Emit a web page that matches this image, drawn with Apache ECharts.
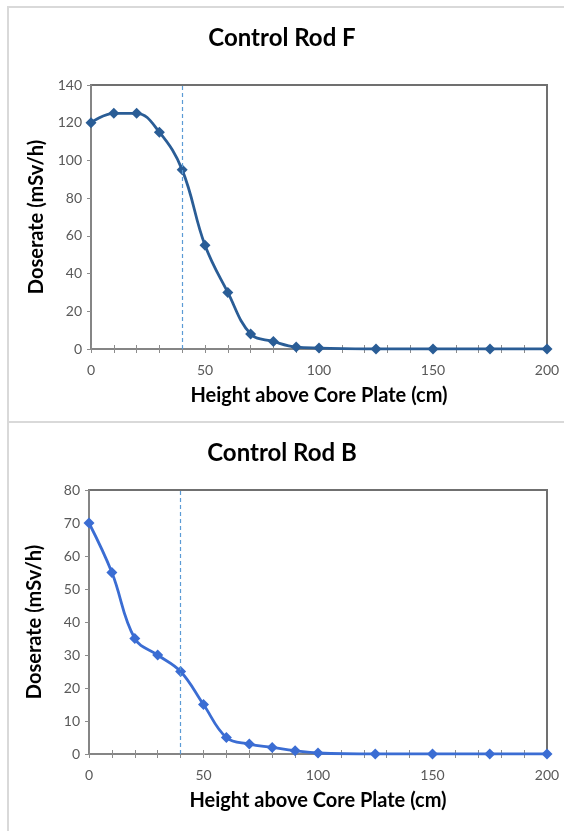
<!DOCTYPE html>
<html>
<head>
<meta charset="utf-8">
<script src="https://cdn.jsdelivr.net/npm/echarts@6/dist/echarts.min.js"></script>
<style>
  html, body { margin: 0; padding: 0; background: #fff; }
  #main { width: 564px; height: 831px; }
</style>
</head>
<body>
<div id="main"></div>
<script>
var heights = [0, 10, 20, 30, 40, 50, 60, 70, 80, 90, 100, 125, 150, 175, 200];
var doseRodF = [120, 125, 125, 115, 95, 55, 30, 8, 4, 1, 0.5, 0, 0, 0, 0];
var doseRodB = [70, 55, 35, 30, 25, 15, 5, 3, 2, 1, 0.3, 0, 0, 0, 0];
var cutoffHeight = 40;
var titles = ['Control Rod F', 'Control Rod B'];
var xName = 'Height above Core Plate (cm)';
var yName = 'Doserate (mSv/h)';

var myChart = echarts.init(document.getElementById('main'));
var font = 'Lato, "Open Sans", sans-serif';

function pairs(ys) {
    return heights.map(function (h, i) { return [h, ys[i]]; });
}

// main x axis: labels every 50, ticks every 10 (outside)
function xMain(grid) {
    return {
        type: 'value', gridIndex: grid, position: 'bottom',
        min: 0, max: 200, interval: 10,
        name: xName, nameLocation: 'middle', nameGap: 37,
        nameTextStyle: { fontFamily: font, fontWeight: 'bold', fontSize: 20, color: '#000' },
        axisLine: { lineStyle: { color: '#8c8c8c', width: 1.5 } },
        axisTick: { show: true, length: 4, lineStyle: { color: '#8c8c8c' } },
        axisLabel: {
            margin: 14, color: '#595959', fontFamily: font, fontSize: 14,
            formatter: function (v) { return v % 50 === 0 ? v : ''; }
        },
        splitLine: { show: false }
    };
}
// overlay axis only for the inner half of the cross ticks
function xInner(grid) {
    return {
        type: 'value', gridIndex: grid, position: 'bottom',
        min: 0, max: 200, interval: 10,
        axisLine: { show: false },
        axisTick: { show: true, inside: true, length: 4, lineStyle: { color: '#8c8c8c' } },
        axisLabel: { show: false },
        splitLine: { show: false }
    };
}
function yAx(grid, max, step) {
    return {
        type: 'value', gridIndex: grid, min: 0, max: max, interval: step,
        name: yName, nameLocation: 'middle', nameGap: 44,
        nameTextStyle: { fontFamily: font, fontWeight: 'bold', fontSize: 20, color: '#000' },
        axisLine: { show: true, lineStyle: { color: '#8c8c8c', width: 1.5 } },
        axisTick: { show: true, length: 4, lineStyle: { color: '#8c8c8c' } },
        axisLabel: { margin: 9, color: '#595959', fontFamily: font, fontSize: 14 },
        splitLine: { show: false }
    };
}
function lineSeries(grid, ys, color) {
    return {
        type: 'line', xAxisIndex: grid * 2, yAxisIndex: grid,
        data: pairs(ys), smooth: 0.4,
        symbol: 'diamond', symbolSize: 11,
        lineStyle: { color: color, width: 2.8 },
        itemStyle: { color: color },
        markLine: {
            silent: true, symbol: 'none', label: { show: false },
            lineStyle: { color: '#5b9bd5', type: [4, 3], width: 1.2 },
            data: [{ xAxis: cutoffHeight }]
        },
        z: 3
    };
}

option = {
    backgroundColor: '#fff',
    animation: false,
    title: [
        { text: titles[0], left: 'center', top: 21, textStyle: { fontFamily: font, fontWeight: 'bold', fontSize: 24, color: '#000' } },
        { text: titles[1], left: 'center', top: 436, textStyle: { fontFamily: font, fontWeight: 'bold', fontSize: 24, color: '#000' } }
    ],
    graphic: [
        { type: 'rect', shape: { x: 8, y: 7, width: 570, height: 415 }, style: { fill: 'none', stroke: '#d9d9d9', lineWidth: 2 } },
        { type: 'rect', shape: { x: 8, y: 422, width: 570, height: 430 }, style: { fill: 'none', stroke: '#d9d9d9', lineWidth: 2 } }
    ],
    grid: [
        { left: 91, top: 85, width: 456, height: 264, show: true, borderColor: '#707070', borderWidth: 2 },
        { left: 89, top: 490, width: 458, height: 264, show: true, borderColor: '#707070', borderWidth: 2 }
    ],
    xAxis: [xMain(0), xInner(0), xMain(1), xInner(1)],
    yAxis: [yAx(0, 140, 20), yAx(1, 80, 10)],
    series: [
        lineSeries(0, doseRodF, '#2a5d96'),
        lineSeries(1, doseRodB, '#3b6dd3')
    ]
};

myChart.setOption(option);
</script>
</body>
</html>
